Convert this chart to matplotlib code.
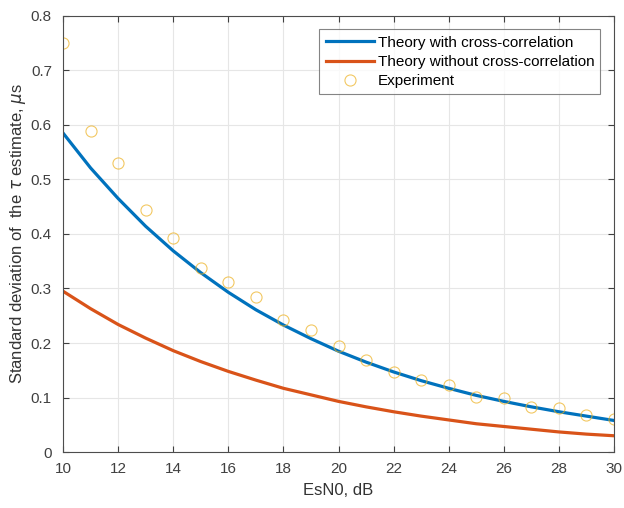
import matplotlib
matplotlib.use("Agg")
import matplotlib.pyplot as plt

esn0 = list(range(10, 31))
theory_with = [0.585, 0.521, 0.465, 0.414, 0.369, 0.329, 0.293, 0.261, 0.233, 0.208,
               0.185, 0.165, 0.147, 0.131, 0.117, 0.104, 0.093, 0.083, 0.074, 0.066, 0.058]
theory_without = [0.295, 0.263, 0.234, 0.209, 0.186, 0.166, 0.148, 0.132, 0.117, 0.105,
                  0.093, 0.083, 0.074, 0.066, 0.059, 0.052, 0.047, 0.042, 0.037, 0.033, 0.030]
experiment = [0.750, 0.589, 0.530, 0.443, 0.393, 0.337, 0.311, 0.285, 0.242, 0.224,
              0.194, 0.169, 0.147, 0.132, 0.123, 0.101, 0.099, 0.083, 0.081, 0.068, 0.061]

plt.rcParams['font.family'] = ['Liberation Sans', 'DejaVu Sans']

fig = plt.figure(figsize=(6.24, 5.08), dpi=100)
ax = fig.add_axes([0.101, 0.110, 0.883, 0.859])

ax.plot(esn0, theory_with, color='#0072BD', lw=2.3, label='Theory with cross-correlation')
ax.plot(esn0, theory_without, color='#D95319', lw=2.3, label='Theory without cross-correlation')
ax.plot(esn0, experiment, linestyle='none', marker='o', markersize=8, markerfacecolor='none',
        markeredgecolor='#EDB120', markeredgewidth=0.8, alpha=0.7, label='Experiment')

ax.set_xlim(10, 30)
ax.set_ylim(0, 0.8)
ax.set_xticks(range(10, 31, 2))
ax.set_yticks([0, 0.1, 0.2, 0.3, 0.4, 0.5, 0.6, 0.7, 0.8])
ax.set_yticklabels(['0', '0.1', '0.2', '0.3', '0.4', '0.5', '0.6', '0.7', '0.8'])
ax.grid(True, color='#e6e6e6', lw=0.8)
ax.set_axisbelow(True)
ax.tick_params(direction='in', top=True, right=True, labelsize=11, colors='#404040',
               length=4, width=0.8)
ax.tick_params(axis='y', pad=8)
ax.tick_params(axis='x', pad=7)
for s in ax.spines.values():
    s.set_color('#4d4d4d')
    s.set_linewidth(0.8)

ax.set_xlabel('EsN0, dB', fontsize=12, color='#333333', labelpad=5)
ax.set_ylabel(r'Standard deviation of  the $\tau$ estimate, $\mu$s', fontsize=12,
              color='#333333', labelpad=2)

leg = ax.legend(loc='upper right', fontsize=11, frameon=True, fancybox=False,
                edgecolor='#666666', borderpad=0.4, handlelength=3.2, labelspacing=0.35,
                handletextpad=0.2, borderaxespad=0.9)
leg.get_frame().set_linewidth(0.8)

fig.savefig('out.png', dpi=100)
